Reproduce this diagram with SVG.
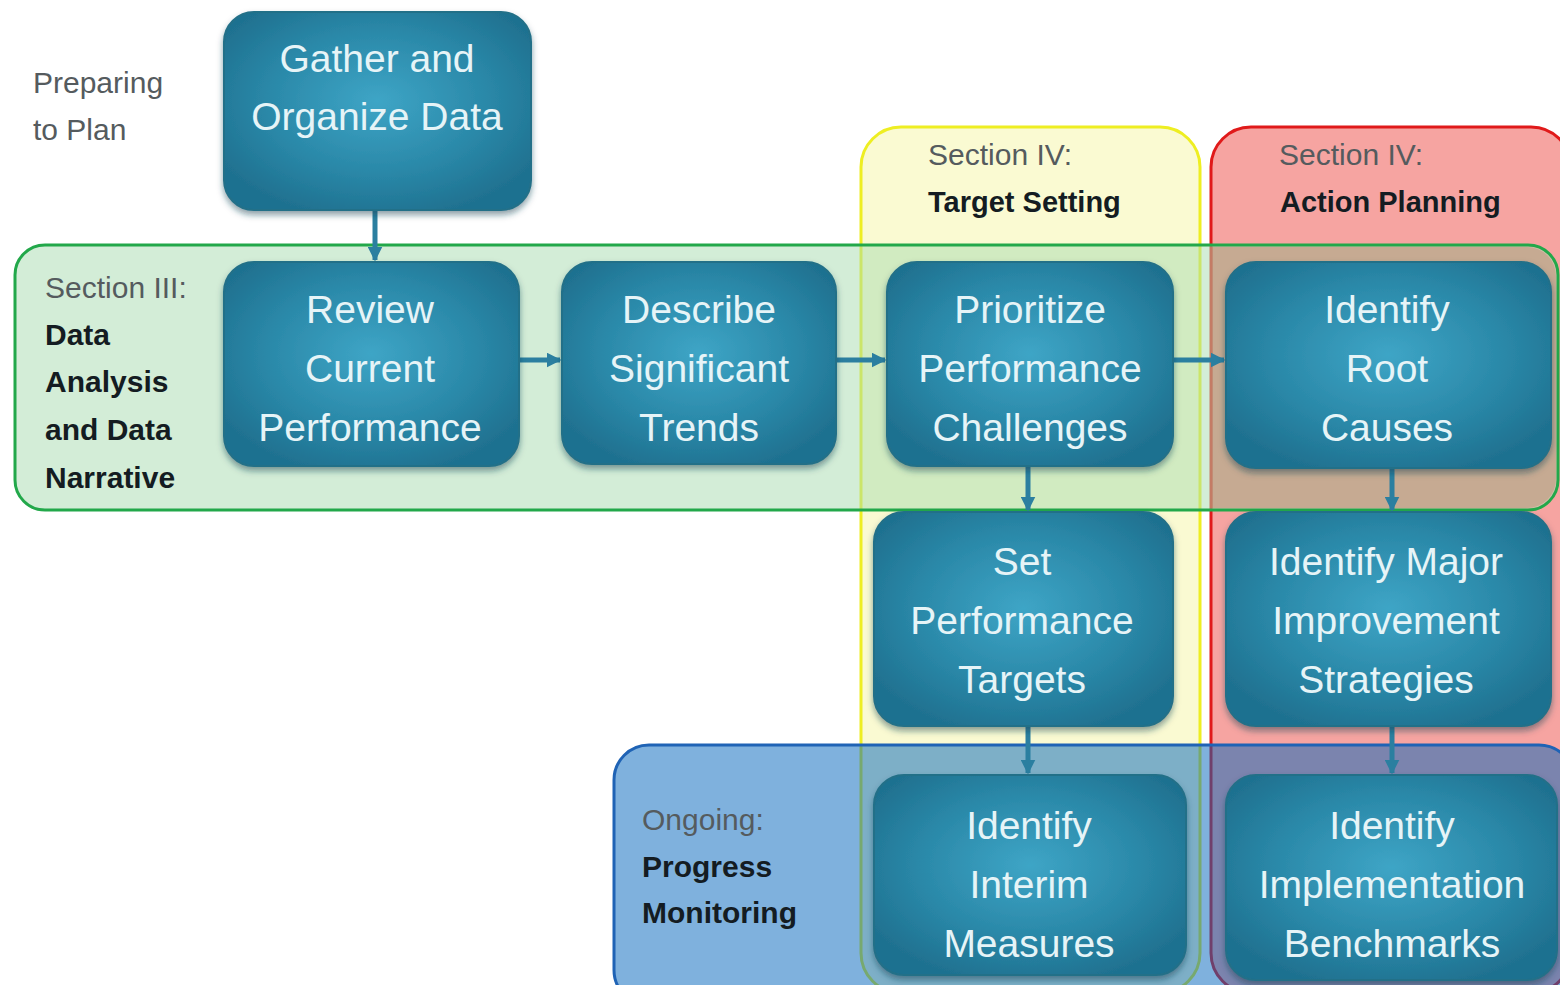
<svg xmlns="http://www.w3.org/2000/svg" width="1560" height="985" viewBox="0 0 1560 985">
<style>
.lbl{font-family:"Liberation Sans",Arial,sans-serif;font-size:30px;fill:#555b5e}
.lblb{font-family:"Liberation Sans",Arial,sans-serif;font-size:30px;font-weight:bold;fill:#141c22}
.nt{font-family:"Liberation Sans",Arial,sans-serif;font-size:39px;fill:#e6f4f7;text-anchor:middle}
.node{fill:url(#ng);stroke:#236f88;stroke-width:2;filter:url(#sh)}
.conn{stroke:#2b7fa0;stroke-width:5;fill:none;marker-end:url(#ah)}
</style>
<defs>
<radialGradient id="ng" cx="0.5" cy="0.45" r="0.6">
<stop offset="0" stop-color="#3ea5c6"/>
<stop offset="0.6" stop-color="#2a88a8"/>
<stop offset="1" stop-color="#1f7190"/>
</radialGradient>
<filter id="sh" x="-10%" y="-10%" width="120%" height="125%">
<feDropShadow dx="0" dy="4" stdDeviation="3" flood-color="#0a3f52" flood-opacity="0.5"/>
</filter>
<marker id="ah" viewBox="0 0 10 10" refX="9" refY="5" markerWidth="3" markerHeight="3" orient="auto" markerUnits="strokeWidth">
<path d="M0,0 L10,5 L0,10 z" fill="#2b7fa0"/>
</marker>
<clipPath id="redclip"><rect x="1212" y="127" width="400" height="900"/></clipPath>
</defs>
<rect width="1560" height="985" fill="#ffffff"/>
<g id="regions">
<rect id="region-target" x="861" y="127" width="339" height="866" rx="40" fill="#f6f6a6" fill-opacity="0.5" stroke="#eeee22" stroke-width="3"/>
<rect id="region-action" x="1211" y="127" width="360" height="866" rx="40" fill="#ee4a44" fill-opacity="0.5" stroke="#e01a1a" stroke-width="3"/>
<rect id="region-analysis" x="15" y="245" width="1543" height="265" rx="30" fill="#a8dcaf" fill-opacity="0.5" stroke="#22a84a" stroke-width="3"/>
<rect x="15" y="247" width="1541" height="261" rx="29" fill="#9a3a20" fill-opacity="0.16" clip-path="url(#redclip)"/>
<rect id="region-monitoring" x="614" y="745" width="960" height="260" rx="35" fill="#0064bc" fill-opacity="0.5" stroke="#1f63b5" stroke-width="3"/>
</g>
<g id="labels">
<text class="lbl" x="33" y="93">Preparing</text>
<text class="lbl" x="33" y="140">to Plan</text>
<text class="lbl" x="45" y="298">Section III:</text>
<text class="lblb" x="45" y="345">Data</text>
<text class="lblb" x="45" y="392">Analysis</text>
<text class="lblb" x="45" y="440">and Data</text>
<text class="lblb" x="45" y="488">Narrative</text>
<text class="lbl" x="928" y="165">Section IV:</text>
<text class="lblb" x="928" y="212" style="font-size:29px">Target Setting</text>
<text class="lbl" x="1279" y="165">Section IV:</text>
<text class="lblb" x="1280" y="212" style="font-size:29px">Action Planning</text>
<text class="lbl" x="642" y="830">Ongoing:</text>
<text class="lblb" x="642" y="877">Progress</text>
<text class="lblb" x="642" y="923">Monitoring</text>
</g>
<g id="connectors">
<line class="conn" x1="375" y1="210" x2="375" y2="260"/>
<line class="conn" x1="519" y1="360" x2="560" y2="360"/>
<line class="conn" x1="836" y1="360" x2="885" y2="360"/>
<line class="conn" x1="1173" y1="360" x2="1224" y2="360"/>
<line class="conn" x1="1028" y1="466" x2="1028" y2="510"/>
<line class="conn" x1="1392" y1="468" x2="1392" y2="510"/>
<line class="conn" x1="1028" y1="726" x2="1028" y2="773"/>
<line class="conn" x1="1392" y1="726" x2="1392" y2="773"/>
</g>
<g id="node-gather">
<rect class="node" x="224" y="12" width="307" height="198" rx="30"/>
<text class="nt" x="377" y="72">Gather and</text>
<text class="nt" x="377" y="130">Organize Data</text>
</g>
<g id="node-review">
<rect class="node" x="224" y="262" width="295" height="204" rx="30"/>
<text class="nt" x="370" y="323">Review</text>
<text class="nt" x="370" y="382">Current</text>
<text class="nt" x="370" y="441">Performance</text>
</g>
<g id="node-describe">
<rect class="node" x="562" y="262" width="274" height="202" rx="30"/>
<text class="nt" x="699" y="323">Describe</text>
<text class="nt" x="699" y="382">Significant</text>
<text class="nt" x="699" y="441">Trends</text>
</g>
<g id="node-prioritize">
<rect class="node" x="887" y="262" width="286" height="204" rx="30"/>
<text class="nt" x="1030" y="323">Prioritize</text>
<text class="nt" x="1030" y="382">Performance</text>
<text class="nt" x="1030" y="441">Challenges</text>
</g>
<g id="node-root">
<rect class="node" x="1226" y="262" width="325" height="206" rx="30"/>
<text class="nt" x="1387" y="323">Identify</text>
<text class="nt" x="1387" y="382">Root</text>
<text class="nt" x="1387" y="441">Causes</text>
</g>
<g id="node-set">
<rect class="node" x="874" y="512" width="299" height="214" rx="30"/>
<text class="nt" x="1022" y="575">Set</text>
<text class="nt" x="1022" y="634">Performance</text>
<text class="nt" x="1022" y="693">Targets</text>
</g>
<g id="node-major">
<rect class="node" x="1226" y="512" width="325" height="214" rx="30"/>
<text class="nt" x="1386" y="575">Identify Major</text>
<text class="nt" x="1386" y="634">Improvement</text>
<text class="nt" x="1386" y="693">Strategies</text>
</g>
<g id="node-interim">
<rect class="node" x="874" y="775" width="312" height="200" rx="30"/>
<text class="nt" x="1029" y="839">Identify</text>
<text class="nt" x="1029" y="898">Interim</text>
<text class="nt" x="1029" y="957">Measures</text>
</g>
<g id="node-benchmarks">
<rect class="node" x="1226" y="775" width="331" height="205" rx="30"/>
<text class="nt" x="1392" y="839">Identify</text>
<text class="nt" x="1392" y="898">Implementation</text>
<text class="nt" x="1392" y="957">Benchmarks</text>
</g>
</svg>
